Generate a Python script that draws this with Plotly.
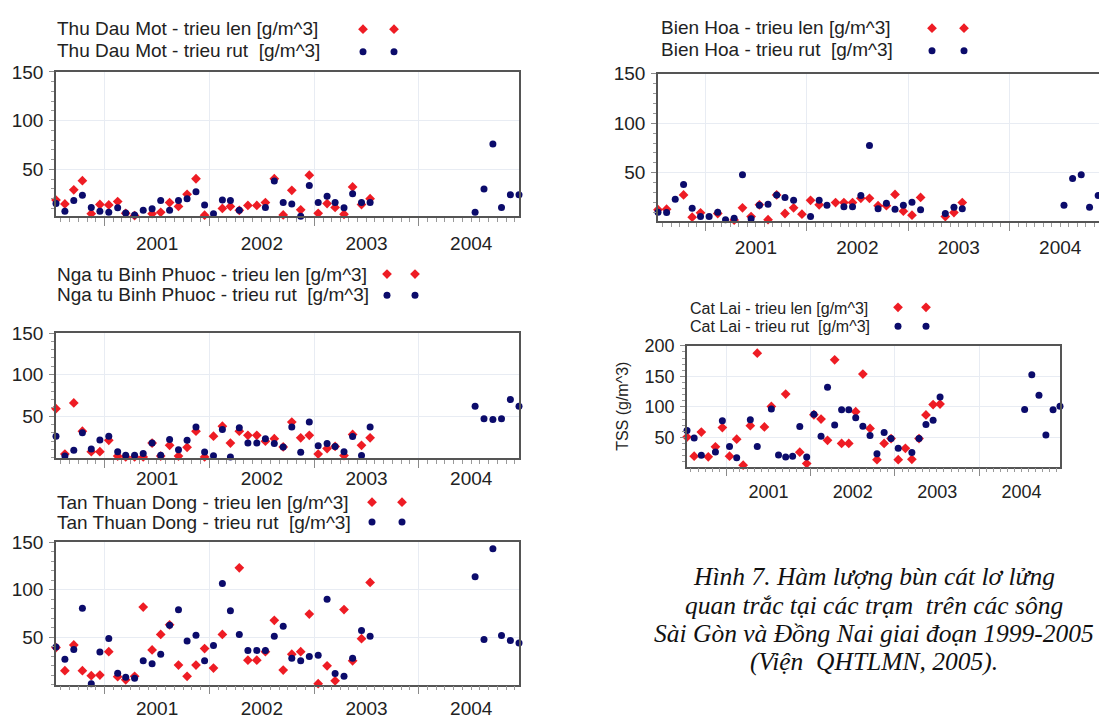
import pandas as pd
import plotly.graph_objects as go

W, H = 1099, 719

# ---------------- data ----------------
months_a = list(pd.date_range("2000-07-01", "2003-07-01", freq="MS") + pd.Timedelta(days=14))
months_b = list(pd.date_range("2004-07-01", "2004-12-01", freq="MS") + pd.Timedelta(days=14))

tdm_len = [18.5, 14.6, 29, 38.4, 4.6, 14, 13.6, 17, 5, 2.6, None, 4.6, 6, 16, 12, 24.5, 40.4, 3, None, 10,
           12, 8, 13, 13, 16, 40.4, 3.3, 28.5, 8.6, 44, 5, 15, 11, 4, 32, 14, 20]
tdm_rut = [15, 7, 18, 23.5, 11, 7, 6, 10.6, 5.3, 3.3, 8, 9.6, 18, 8, 18, 20, 27, 13.6, 4.6, 18.5,
           18, 8, None, None, 11, 38, 16, 14.6, 2, 33.5, 16, 22.5, 16, 10.6, 25, 16, 16]
tdm_rut_2004 = [6, 30, 76, 11, 24, 24]

nbp_len = [59, 4.5, 66, 32, 7.3, 7.3, 21, 2, 1, 1, 1, 17.6, 2, 15, 2, 12.5, 32, 1, 26, 38,
           17.6, 32, 27, 27, 20, 23, 13, 43, 24, 27, 4.5, 11, 13.6, 2.6, 28, 15, 24]
nbp_rut = [26, 2, 9, 30, 10.5, 21.5, 26, 7.3, 3, 3, 5, 17.6, 3, 22, 9.7, 21, 37, 7, 2.5, 34,
           1, 36, 17.6, 17.6, 23, 17, 13, 37, 6.5, 43, 14.4, 17, 13.6, 7.3, 25.5, 2.6, 37]
nbp_rut_2004 = [62, 47, 46, 47, 70, 62]

ttd_len = [39, 14.6, 41.7, 14.6, 9.4, 10, 34.7, 8.3, 5, 8.7, 81.6, 36.5, 52.8, 63, 20.5, 8.7, 20.5, 38, 17.4, 52.8,
           None, 123, 25.7, 25.7, 34.7, 67.7, 15.3, 32, 34.7, 74.3, 1, 19.8, 4, 79, 25, 48.3, 107.6]
ttd_rut = [39.6, 26.7, 37, 80.5, 1, 34.4, 48.6, 12, 7.6, 6.6, 25, 22, 32, 62.5, 78.8, 46, 52, 25, 41.3, 106.6,
           77.8, 52.8, 36, 36, 36, 51, 61.5, 27.8, 25, 29.5, 31, 90, 11.8, 8.7, 27.8, 57, 51]
ttd_rut_2004 = [113.5, 47.6, 143, 51.7, 46.5, 43.7]

bh_len = [12.5, 13, None, 27.5, 5, 9.4, None, 8.7, None, 2, 14.4, 5.6, 17.5, 2.5, 27.5, 8.7, 14.4, 8, 22, 17.5,
          None, 19.7, 19.7, 19.7, 24, 24, 16.6, 16.6, 28, 11, 7, 25, None, None, 5.6, 9.7, 19.7]
bh_rut = [10, 9.7, 23, 38, 14, 5.6, 5.6, 10, 2.5, 4, 48, 3.4, 17, 18, 27.5, 25, 22, None, 5.6, 22,
          17, None, 15.6, 15.6, 27, 77.5, 13.4, 19, 13, 17, 20, 12.5, None, None, 8.7, 15, 13.4]
bh_rut_2004 = [17, 44, 48, 15, 27]

cl_len = [50.5, 19, 58.6, 18, 34.4, 66, 19, 47, 4.4, 69, 188, 67, 100.7, None, 121, None, 25.7, 7, 87, 80,
          45, 177, 40, 40, 92, 153.7, 64.5, 13.4, 40, 48, 13.4, 32, 14, 48, 86.6, 103.7, 104.6]
cl_rut = [61, 49, 20.5, None, 26, 77, 35, 16.6, None, 79, 35, None, 96.4, 21, 17.6, 19, 67.8, 17.6, 88, 51.6,
          132, 70, 95, 95, 82, 68, 53, 23, 58, 48, 32, None, 25, 48, 71, 78, 116]
cl_rut_2004 = [95.6, 152.7, 118.8, 54, 95, 101]

caption_lines = [
    "Hình 7. Hàm lượng bùn cát lơ lửng",
    "quan trắc tại các trạm  trên các sông",
    "Sài Gòn và Đồng Nai giai đoạn 1999-2005",
    "(Viện  QHTLMN, 2005).",
]

RED = "#ee1c24"
NAVY = "#0b0b6b"
FONT = "Liberation Sans, Arial, sans-serif"

# panel definitions: pixel boxes (left, right, top, bottom)
panels = [
    dict(name="Thu Dau Mot", len=tdm_len, rut=tdm_rut, rut04=tdm_rut_2004,
         box=(56, 519, 63, 210), yr=[2, 150], xr=["2000-07-15", "2004-12-15"], yt=[50, 100, 150],
         lab_x=55, lab_y=(19, 41), mk_x=(363, 394), fs=19, tf=19, so=1, mirror_y=True, ytitle=None),
    dict(name="Nga tu Binh Phuoc", len=nbp_len, rut=nbp_rut, rut04=nbp_rut_2004,
         box=(56, 519, 329, 456), yr=[0, 150], xr=["2000-07-15", "2004-12-15"], yt=[50, 100, 150],
         lab_x=55, lab_y=(269, 290), mk_x=(387, 415), fs=19, tf=19, so=-5, mirror_y=True, ytitle=None),
    dict(name="Tan Thuan Dong", len=ttd_len, rut=ttd_rut, rut04=ttd_rut_2004,
         box=(56, 519, 542, 687), yr=[0, 150], xr=["2000-07-15", "2004-12-15"], yt=[50, 100, 150],
         lab_x=55, lab_y=(502, 522), mk_x=(372, 402), fs=19, tf=19, so=-2, mirror_y=True, ytitle=None),
    dict(name="Bien Hoa", len=bh_len, rut=bh_rut, rut04=bh_rut_2004,
         box=(658, 1099, 65, 215), yr=[1, 150], xr=["2000-07-15", "2004-11-18"], yt=[50, 100, 150],
         lab_x=659, lab_y=(18, 40), mk_x=(932, 964), fs=19, tf=19, so=0, mirror_y=False, ytitle=None),
    dict(name="Cat Lai", len=cl_len, rut=cl_rut, rut04=cl_rut_2004,
         box=(687, 1060, 342, 465), yr=[2, 200], xr=["2000-07-15", "2004-12-15"], yt=[50, 100, 150, 200],
         lab_x=688, lab_y=(304, 322), mk_x=(898, 926), fs=16, tf=18, so=0, mirror_y=True,
         ytitle="TSS (g/m^3)"),
]

fig = go.Figure()
annotations = []
legend_n = 0


def px_x(v):
    return v / W


def px_y(v):
    return 1 - v / H


for k, p in enumerate(panels):
    ax = "" if k == 0 else str(k + 1)
    xref, yref = "x" + ax, "y" + ax
    l, r, t, b = p["box"]
    lab_len = f"{p['name']} - trieu len [g/m^3]"
    lab_rut = f"{p['name']} - trieu rut\u00a0 [g/m^3]"

    leg_a = "legend" if legend_n == 0 else f"legend{legend_n + 1}"
    leg_b = f"legend{legend_n + 2}"
    legend_n += 2

    fig.add_trace(go.Scatter(
        x=months_a, y=p["len"], mode="markers", name=" ", legend=leg_a,
        marker=dict(symbol="diamond", size=7.5, color=RED),
        cliponaxis=False, xaxis=xref, yaxis=yref,
        hovertemplate=lab_len + "<br>%{x|%m/%Y}: %{y}<extra></extra>"))
    fig.add_trace(go.Scatter(
        x=months_a + months_b[:len(p["rut04"])], y=p["rut"] + p["rut04"], mode="markers",
        name=" ", legend=leg_a,
        marker=dict(symbol="circle", size=7, color=NAVY),
        cliponaxis=False, xaxis=xref, yaxis=yref,
        hovertemplate=lab_rut + "<br>%{x|%m/%Y}: %{y}<extra></extra>"))
    # second column of legend symbols (legend-only entries)
    fig.add_trace(go.Scatter(x=[None], y=[None], mode="markers", name=" ", legend=leg_b,
                             marker=dict(symbol="diamond", size=7.5, color=RED),
                             xaxis=xref, yaxis=yref, hoverinfo="skip"))
    fig.add_trace(go.Scatter(x=[None], y=[None], mode="markers", name=" ", legend=leg_b,
                             marker=dict(symbol="circle", size=7, color=NAVY),
                             xaxis=xref, yaxis=yref, hoverinfo="skip"))

    gap = p["lab_y"][1] - p["lab_y"][0]
    leg_common = dict(xanchor="left", yanchor="top", bgcolor="rgba(0,0,0,0)", borderwidth=0,
                      font=dict(size=gap - 7, family=FONT), tracegroupgap=0, itemwidth=30)
    top_y = p["lab_y"][0] - 16
    fig.update_layout({
        leg_a: dict(x=px_x(p["mk_x"][0] - 20), y=px_y(top_y), **leg_common),
        leg_b: dict(x=px_x(p["mk_x"][1] - 20), y=px_y(top_y), **leg_common),
    })

    for txt, yy in zip((lab_len, lab_rut), p["lab_y"]):
        annotations.append(dict(text=txt, xref="paper", yref="paper", x=px_x(p["lab_x"]), y=px_y(yy),
                                xanchor="left", yanchor="middle", showarrow=False,
                                font=dict(family=FONT, size=p["fs"], color="#222")))

    tf = p["tf"]
    fig.update_layout({
        "xaxis" + ax: dict(
            type="date", domain=[px_x(l), px_x(r)], range=p["xr"], anchor=yref,
            dtick="M12", tick0="2000-01-01", tickformat="%Y", ticklabelmode="period",
            ticks="outside", ticklen=8, tickwidth=1.3, tickcolor="#8a8a8a",
            showline=True, linecolor="#555", linewidth=1.5, mirror=True,
            showgrid=True, gridcolor="#e8ecf3", gridwidth=1, zeroline=False,
            minor=dict(dtick="M1", tick0="2000-01-01", ticks="outside", ticklen=4,
                       tickcolor="#9a9a9a", tickwidth=1, showgrid=False),
            tickfont=dict(family=FONT, size=tf, color="#222"), ticklabelstandoff=p["so"],
        ),
        "yaxis" + ax: dict(
            domain=[px_y(b), px_y(t)], range=p["yr"], anchor=xref, tickvals=p["yt"],
            ticks="outside", ticklen=5, tickwidth=1.3, tickcolor="#8a8a8a",
            showline=True, linecolor="#555", linewidth=1.5, mirror=p["mirror_y"],
            showgrid=True, gridcolor="#e8ecf3", gridwidth=1, zeroline=False,
            minor=dict(dtick=10, tick0=0, ticks="outside", ticklen=3,
                       tickcolor="#9a9a9a", tickwidth=1, showgrid=False),
            tickfont=dict(family=FONT, size=tf, color="#222"), ticklabelstandoff=2,
            title=dict(text=p["ytitle"], font=dict(family=FONT, size=16, color="#222"), standoff=12)
            if p["ytitle"] else None,
        ),
    })

for txt, yy in zip(caption_lines, (577, 606, 635, 664)):
    annotations.append(dict(text=f"<i>{txt}</i>", xref="paper", yref="paper", x=px_x(874), y=px_y(yy),
                            xanchor="center", yanchor="middle", showarrow=False,
                            font=dict(family="Liberation Serif, Times New Roman, serif", size=25.5, color="#111")))

fig.update_layout(
    width=W, height=H, margin=dict(l=0, r=0, t=0, b=0),
    paper_bgcolor="white", plot_bgcolor="white",
    showlegend=True, annotations=annotations,
)

fig.write_html(
    "out.html",
    config={"displayModeBar": False},
    post_script="document.body.style.margin='0';document.body.style.padding='0';"
                "document.documentElement.style.overflow='hidden';",
)
